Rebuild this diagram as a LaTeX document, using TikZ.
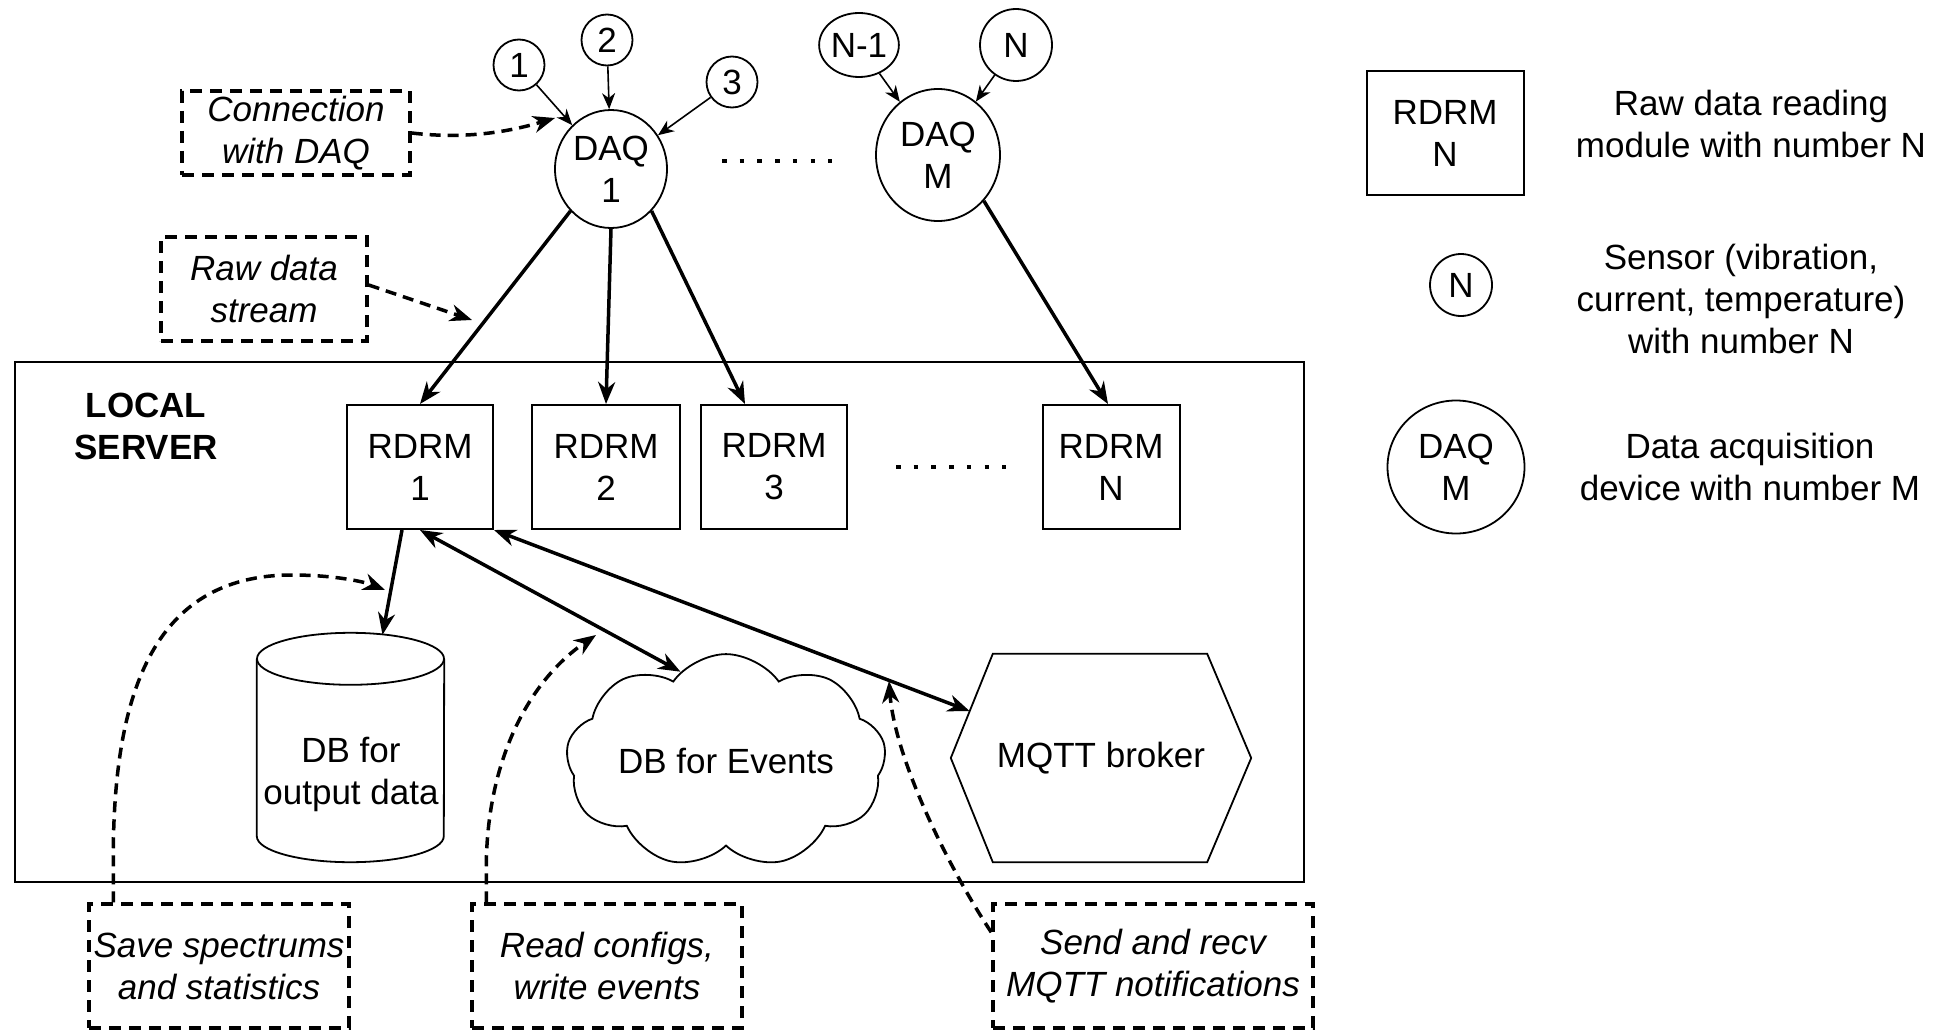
\documentclass[tikz,border=0pt]{standalone}
\usepackage{fontspec}
\setmainfont{Liberation Sans}
\usetikzlibrary{arrows.meta,shapes.geometric,shapes.symbols,calc}
\begin{document}
\begin{tikzpicture}[x=1pt,y=-1pt,
  txt/.style={font=\fontsize{35}{42}\selectfont, align=center},
  box/.style={draw, line width=2pt, minimum width=146pt, minimum height=124pt, inner sep=0pt, txt},
  sensor/.style={draw, circle, line width=1.8pt, inner sep=0pt, minimum size=51pt, txt},
  daq/.style={draw, ellipse, line width=1.8pt, inner sep=0pt, txt},
  note/.style={draw, line width=3.5pt, dash pattern=on 12pt off 8pt, inner sep=0pt, align=center, font=\fontsize{35}{42}\selectfont\itshape},
  thinarr/.style={-{Stealth[length=16pt,width=13pt,inset=5pt]}, line width=1.6pt},
  thickarr/.style={-{Stealth[length=22pt,width=17pt,inset=7pt]}, line width=3.5pt},
  dblarr/.style={{Stealth[length=22pt,width=17pt,inset=7pt]}-{Stealth[length=22pt,width=17pt,inset=7pt]}, line width=3.5pt},
  dasharr/.style={-{Stealth[length=22pt,width=17pt,inset=7pt]}, line width=3.5pt, dash pattern=on 11pt off 7pt},
  dotsline/.style={line width=4.5pt, dash pattern=on 4.5pt off 13.2pt}
]
\useasboundingbox (0,0) rectangle (1946,1030);

% local server frame
\node[draw, line width=2pt, minimum width=1289pt, minimum height=520pt, inner sep=0pt] (srv) at (659.5,622) {};
\node[txt, font=\fontsize{35}{42}\selectfont\bfseries] (srvl) at (146,426) {LOCAL\\SERVER};

% sensors
\node[sensor] (s1) at (519,65) {1};
\node[sensor] (s2) at (607,40) {2};
\node[sensor] (s3) at (732,82) {3};
\node[daq, minimum width=68pt, minimum height=64pt] (sn1) at (859,45) {N-1};
\node[daq, minimum width=72pt, minimum height=72pt] (sn) at (1016,45) {N};

% DAQs
\node[daq, minimum width=112pt, minimum height=118pt] (daq1) at (611,169) {DAQ\\1};
\node[daq, minimum width=124pt, minimum height=132pt] (daqm) at (938,155) {DAQ\\M};
\draw[dotsline] (722,161) -- (832,161);

% RDRMs
\node[box] (r1) at (420,467) {RDRM\\1};
\node[box, minimum width=148pt] (r2) at (606,467) {RDRM\\2};
\node[box] (r3) at (774,467) {RDRM\\3};
\node[box, minimum width=137pt] (rn) at (1111,467) {RDRM\\N};
\draw[dotsline] (896,467) -- (1006,467);

% DB cylinder
\node[minimum width=187pt, minimum height=229pt, inner sep=0pt] (db) at (350.5,747.5) {};
\draw[line width=1.8pt] ($(db.north west)+(0,26)$) -- ($(db.south west)+(0,-26)$)
  arc[start angle=180, end angle=0, x radius=93.5, y radius=26] -- ($(db.north east)+(0,26)$);
\draw[line width=1.8pt] ($(db.north)+(0,26)$) ellipse[x radius=93.5, y radius=26];
\node[txt] (dbt) at (351,774) {DB for\\output data};

% cloud
\node[cloud, draw, line width=1.8pt, cloud puffs=9, cloud puff arc=110, aspect=1.8,
  minimum width=320pt, minimum height=180pt, inner sep=0pt, txt] (cloud) at (726,761) {DB for Events};

% MQTT hexagon
\node[txt, minimum width=300pt, minimum height=208pt, inner sep=0pt] (mq) at (1101,758) {MQTT broker};
\draw[line width=1.8pt] (mq.west) -- ($(mq.north west)+(42,0)$) -- ($(mq.north east)+(-44,0)$)
  -- (mq.east) -- ($(mq.south east)+(-44,0)$) -- ($(mq.south west)+(42,0)$) -- cycle;
\coordinate (mqe) at ($(mq.west)!0.45!($(mq.north west)+(42,0)$)$);

% notes
\node[note, minimum width=228pt, minimum height=84pt] (conn) at (296,133) {Connection\\with DAQ};
\node[note, minimum width=206pt, minimum height=104pt] (raw) at (264,289) {Raw data\\stream};
\node[note, minimum width=260pt, minimum height=124pt] (save) at (219,966) {Save spectrums\\and statistics};
\node[note, minimum width=270pt, minimum height=124pt] (read) at (607,966) {Read configs,\\write events};
\node[note, minimum width=320pt, minimum height=124pt] (send) at (1153,966) {Send and recv\\MQTT notifications};

% legend
\node[box, minimum width=157pt, minimum height=123pt] (lr) at (1445,133) {RDRM\\N};
\node[txt] (lrt) at (1751,124) {Raw data reading\\module with number N};
\node[sensor, minimum size=62pt] (ls) at (1461,285) {N};
\node[txt] (lst) at (1741,299) {Sensor (vibration,\\current, temperature)\\with number N};
\node[daq, minimum width=137pt, minimum height=133pt] (ld) at (1456,467) {DAQ\\M};
\node[txt] (ldt) at (1750,467) {Data acquisition\\device with number M};

% sensor -> DAQ
\draw[thinarr] (s1) -- (daq1);
\draw[thinarr] (s2) -- (daq1);
\draw[thinarr] (s3) -- (daq1);
\draw[thinarr] (sn1) -- (daqm);
\draw[thinarr] (sn) -- (daqm);

% DAQ -> RDRM
\draw[thickarr] (daq1.-134) -- (r1.north);
\draw[thickarr] (daq1.south) -- (r2.north);
\draw[thickarr] (daq1.-46) -- ([xshift=-29pt]r3.north);
\draw[thickarr] (daqm.-45) -- ([xshift=-3pt]rn.north);

% RDRM1 -> storage
\draw[thickarr] ([xshift=-18pt]r1.south) -- ([xshift=32pt,yshift=-2pt]db.north);
\draw[dblarr] (r1.south) -- (cloud.117);
\draw[dblarr] (r1.south east) -- (mqe);

% dashed annotation arrows
\coordinate (connend) at (555,118);
\coordinate (rawend) at (472,320);
\coordinate (saveend) at (385,590);
\coordinate (readend) at (596,635);
\coordinate (sendend) at (889,681);
\draw[dasharr] (conn.east) .. controls (470,140) and (515,130) .. (connend);
\draw[dasharr] ([yshift=4pt]raw.east) -- (rawend);
\draw[dasharr] ([xshift=26pt]save.north west) -- ++(0,-43) .. controls +(0,-160) and (150,575) .. (292,575)
  .. controls (335,575) and (365,582) .. (saveend);
\draw[dasharr] ([xshift=16pt]read.north west) -- ++(0,-33) .. controls +(0,-110) and (530,680) .. (readend);
\draw[dasharr] ([yshift=-30pt]send.north west) .. controls (950,870) and (895,760) .. (sendend);
\end{tikzpicture}
\end{document}
